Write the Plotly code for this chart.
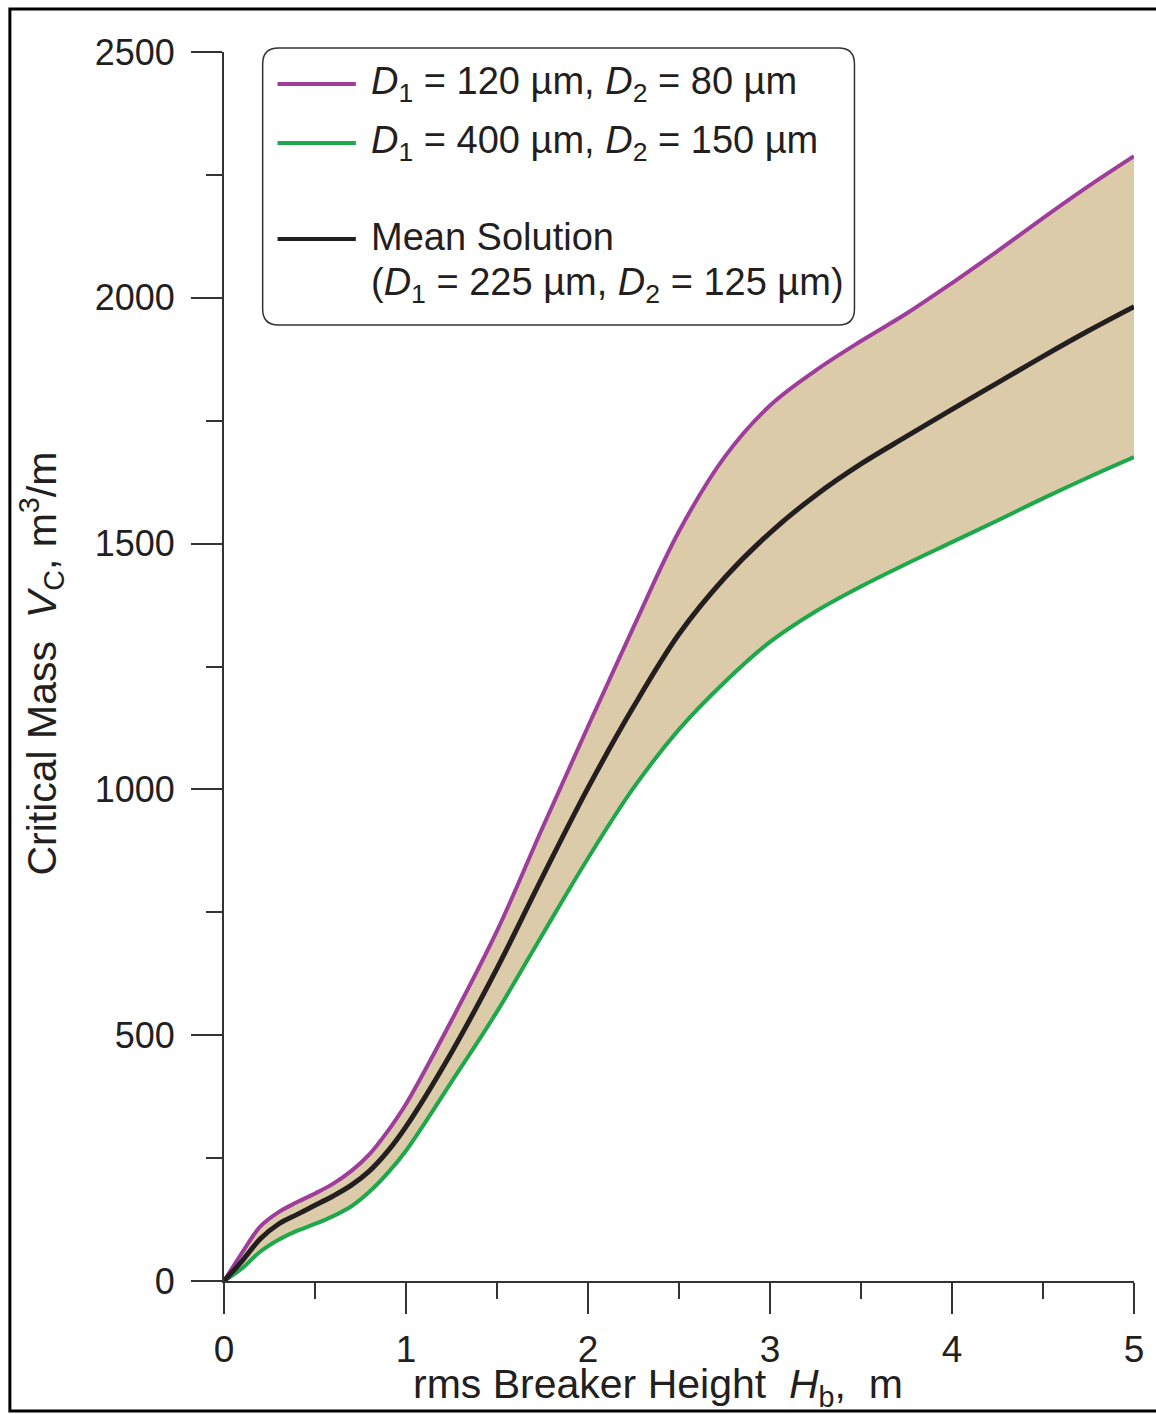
import plotly.graph_objects as go

# ---- data ----
hb = [0, 0.1, 0.2, 0.3, 0.4, 0.5, 0.6, 0.7, 0.8, 0.9, 1.0, 1.25, 1.5, 1.75,
      2.0, 2.25, 2.5, 2.75, 3.0, 3.25, 3.5, 3.75, 4.0, 4.25, 4.5, 4.75, 5.0]

vc_fine = [0, 58, 111, 140, 160, 178, 198, 224, 258, 305, 360, 530, 712, 922,
           1128, 1330, 1525, 1676, 1781, 1852, 1912, 1968, 2030, 2095, 2162, 2227, 2288]

vc_coarse = [0, 26, 60, 84, 102, 116, 132, 152, 182, 220, 265, 405, 548, 705,
             860, 1003, 1122, 1218, 1300, 1362, 1413, 1459, 1503, 1547, 1592, 1635, 1676]

vc_mean = [0, 41, 86, 116, 135, 154, 173, 195, 224, 264, 314, 465, 636, 822,
           1003, 1168, 1316, 1430, 1522, 1598, 1662, 1718, 1773, 1827, 1881, 1933, 1982]

legend_labels = [
    "<i>D</i><sub>1</sub> = 120 µm, <i>D</i><sub>2</sub> = 80 µm",
    "<i>D</i><sub>1</sub> = 400 µm, <i>D</i><sub>2</sub> = 150 µm",
    "Mean Solution",
    "(<i>D</i><sub>1</sub> = 225 µm, <i>D</i><sub>2</sub> = 125 µm)",
]

x_title = "rms Breaker Height\u00a0 <i>H</i><sub>b</sub>,\u00a0 m"
y_title = "Critical Mass\u00a0 <i>V</i><sub>C</sub>, m<sup>3</sup>/m"

# ---- styles ----
PURPLE = "#9E3D9B"
GREEN = "#1DA84B"
BLACK = "#231F20"
FILL = "#DCCBA9"
AXIS = "#333333"
FONT = "Liberation Sans, Arial, sans-serif"

W, H = 1156, 1414
L, R, T, B = 224, 14, 52, 133
PW, PH = W - L - R, H - T - B


def px(xp):
    return (xp - L) / PW


def py(yp):
    return (H - B - yp) / PH


fig = go.Figure()

fig.add_trace(go.Scatter(x=hb, y=vc_coarse, mode="lines",
                         line=dict(color=GREEN, width=4, shape="spline", smoothing=1.0),
                         showlegend=False, cliponaxis=False))
fig.add_trace(go.Scatter(x=hb, y=vc_fine, mode="lines", fill="tonexty", fillcolor=FILL,
                         line=dict(color=PURPLE, width=4, shape="spline", smoothing=1.0),
                         showlegend=False, cliponaxis=False))
fig.add_trace(go.Scatter(x=hb, y=vc_mean, mode="lines",
                         line=dict(color=BLACK, width=5, shape="spline", smoothing=1.0),
                         showlegend=False, cliponaxis=False))

shapes = []
annotations = []

# outer frame (right edge falls outside the picture, as in the reference)
shapes.append(dict(type="rect", xref="paper", yref="paper",
                   x0=px(8), x1=px(1175), y0=py(1411), y1=py(9),
                   line=dict(color="black", width=3), fillcolor="rgba(0,0,0,0)", layer="above"))

# legend box (rounded)
x0, x1, y0, y1, r = px(263), px(860), py(48), py(325), 16
rx, ry = r / PW, r / PH
path = (f"M {x0+rx},{y0} L {x1-rx},{y0} Q {x1},{y0} {x1},{y0-ry} "
        f"L {x1},{y1+ry} Q {x1},{y1} {x1-rx},{y1} L {x0+rx},{y1} "
        f"Q {x0},{y1} {x0},{y1+ry} L {x0},{y0-ry} Q {x0},{y0} {x0+rx},{y0} Z")
shapes.append(dict(type="path", xref="paper", yref="paper", path=path,
                   line=dict(color="#333333", width=1.5), fillcolor="white", layer="above"))

for yy, col in [(84, PURPLE), (143, GREEN), (239, BLACK)]:
    shapes.append(dict(type="line", xref="paper", yref="paper",
                       x0=px(278), x1=px(357), y0=py(yy), y1=py(yy),
                       line=dict(color=col, width=4), layer="above"))

for txt, yy in zip(legend_labels, [84, 143, 237, 285]):
    annotations.append(dict(text=txt, xref="paper", yref="paper", x=px(370), y=py(yy),
                            xanchor="left", yanchor="middle", showarrow=False,
                            font=dict(family=FONT, size=38, color=BLACK)))

annotations.append(dict(text=x_title, xref="paper", yref="paper", x=px(662), y=py(1387),
                        xanchor="center", yanchor="middle", showarrow=False,
                        font=dict(family=FONT, size=41, color=BLACK)))
annotations.append(dict(text=y_title, xref="paper", yref="paper", x=px(40), y=py(664),
                        xanchor="center", yanchor="middle", showarrow=False, textangle=-90,
                        font=dict(family=FONT, size=41, color=BLACK)))

fig.update_layout(
    width=W, height=H,
    margin=dict(l=L, r=R, t=T, b=B, pad=0),
    paper_bgcolor="white", plot_bgcolor="white",
    font=dict(family=FONT, size=36, color=BLACK),
    shapes=shapes, annotations=annotations,
    showlegend=False,
)

fig.update_xaxes(range=[0, 5], tickvals=[0, 1, 2, 3, 4, 5], showgrid=False, zeroline=False,
                 showline=True, linecolor=AXIS, linewidth=2,
                 ticks="outside", ticklen=31, tickwidth=2, tickcolor=AXIS,
                 ticklabelstandoff=4,
                 tickfont=dict(family=FONT, size=37, color=BLACK),
                 minor=dict(tickvals=[0.5, 1.5, 2.5, 3.5, 4.5], ticks="outside", ticklen=16,
                            tickwidth=2, tickcolor=AXIS, showgrid=False))
fig.update_yaxes(range=[0, 2500], tickvals=[0, 500, 1000, 1500, 2000, 2500], showgrid=False,
                 zeroline=False, showline=True, linecolor=AXIS, linewidth=2,
                 ticks="outside", ticklen=31, tickwidth=2, tickcolor=AXIS,
                 ticklabelstandoff=9,
                 tickfont=dict(family=FONT, size=36, color=BLACK),
                 minor=dict(tickvals=[250, 750, 1250, 1750, 2250], ticks="outside", ticklen=16,
                            tickwidth=2, tickcolor=AXIS, showgrid=False))

fig.write_html("out.html")
